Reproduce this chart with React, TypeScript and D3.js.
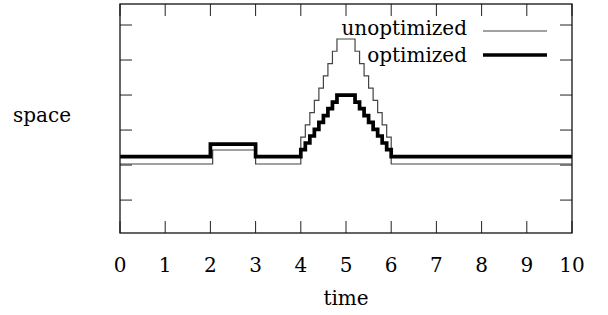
import * as d3 from "d3";
import React from "react";

// time samples and space values
const unoptTime = [0, 2.05, 3.0, 4.0, 4.1, 4.2, 4.3, 4.4, 4.5, 4.6, 4.7, 4.8, 5.2, 5.3, 5.4, 5.5, 5.6, 5.7, 5.8, 5.9, 6.0, 10];
const unoptSpace = [2.03, 2.43, 2.03, 2.8, 3.15, 3.5, 3.85, 4.2, 4.55, 4.9, 5.25, 5.6, 5.25, 4.9, 4.55, 4.2, 3.85, 3.5, 3.15, 2.8, 2.03, 2.03];

const optTime = [0, 2.0, 3.0, 4.0, 4.1, 4.2, 4.3, 4.4, 4.5, 4.6, 4.7, 4.8, 5.2, 5.3, 5.4, 5.5, 5.6, 5.7, 5.8, 5.9, 6.0, 10];
const optSpace = [2.24, 2.6, 2.24, 2.44, 2.63, 2.83, 3.02, 3.22, 3.41, 3.61, 3.8, 4.0, 3.8, 3.61, 3.41, 3.22, 3.02, 2.83, 2.63, 2.44, 2.24, 2.24];

const xTicks = [0, 1, 2, 3, 4, 5, 6, 7, 8, 9, 10];
const yTicks = [1, 2, 3, 4, 5, 6];

const W = 608;
const H = 315;
const m = { left: 120, right: 36, top: 4, bottom: 82 };
const font = "'DejaVu Serif', serif";

export default function App() {
  const x = d3.scaleLinear().domain([0, 10]).range([m.left, W - m.right]);
  const y = d3.scaleLinear().domain([0.06, 6.6]).range([H - m.bottom, m.top]);

  const line = d3
    .line<[number, number]>()
    .x((d) => x(d[0]))
    .y((d) => y(d[1]))
    .curve(d3.curveStepAfter);

  const unopt = unoptTime.map((t, i) => [t, unoptSpace[i]] as [number, number]);
  const opt = optTime.map((t, i) => [t, optSpace[i]] as [number, number]);

  const x0 = x(0), x1 = x(10);
  const y0 = y.range()[0], y1 = y.range()[1];
  const tl = 12;

  return (
    <svg width={W} height={H} style={{ position: "absolute", left: 0, top: 0, background: "#fff" }} fontFamily={font}>
      <defs>
        <clipPath id="plot">
          <rect x={x0} y={y1} width={x1 - x0} height={y0 - y1} />
        </clipPath>
      </defs>
      <g stroke="#222" strokeWidth={1}>
        {xTicks.map((t) => (
          <g key={"x" + t}>
            <line x1={x(t)} x2={x(t)} y1={y0} y2={y0 - tl} />
            <line x1={x(t)} x2={x(t)} y1={y1} y2={y1 + tl} />
          </g>
        ))}
        {yTicks.map((t) => (
          <g key={"y" + t}>
            <line x1={x0} x2={x0 + tl} y1={y(t)} y2={y(t)} />
            <line x1={x1} x2={x1 - tl} y1={y(t)} y2={y(t)} />
          </g>
        ))}
      </g>
      <g clipPath="url(#plot)" fill="none">
        <path d={line(unopt) ?? ""} stroke="#444" strokeWidth={1.2} />
        <path d={line(opt) ?? ""} stroke="#000" strokeWidth={3.7} />
      </g>
      <rect x={x0} y={y1} width={x1 - x0} height={y0 - y1} fill="none" stroke="#111" strokeWidth={1.3} />
      {xTicks.map((t) => (
        <text key={"lx" + t} x={x(t)} y={272} textAnchor="middle" fontSize={20}>
          {t}
        </text>
      ))}
      <text x={(x0 + x1) / 2} y={305} textAnchor="middle" fontSize={20}>
        time
      </text>
      <text x={13} y={122} fontSize={20}>
        space
      </text>
      <g fontSize={20}>
        <text x={467} y={35} textAnchor="end">unoptimized</text>
        <line x1={483} x2={547} y1={31} y2={31} stroke="#444" strokeWidth={1.2} />
        <text x={467} y={62} textAnchor="end">optimized</text>
        <line x1={483} x2={547} y1={55} y2={55} stroke="#000" strokeWidth={3.7} />
      </g>
    </svg>
  );
}
